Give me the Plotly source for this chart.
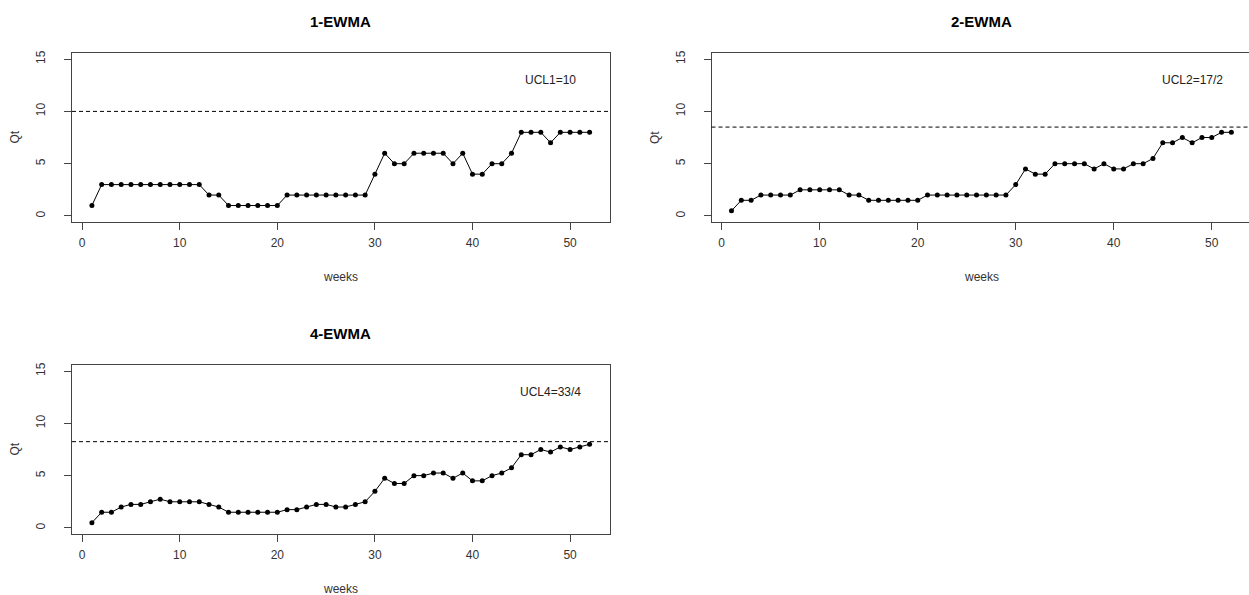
import plotly.graph_objects as go

# Weekly EWMA statistics Qt for the three smoothing orders
weeks = list(range(1, 53))

q_ewma1 = [1, 3, 3, 3, 3, 3, 3, 3, 3, 3, 3, 3, 2, 2, 1, 1, 1, 1, 1, 1,
           2, 2, 2, 2, 2, 2, 2, 2, 2, 4, 6, 5, 5, 6, 6, 6, 6, 5, 6, 4,
           4, 5, 5, 6, 8, 8, 8, 7, 8, 8, 8, 8]

q_ewma2 = [0.5, 1.5, 1.5, 2, 2, 2, 2, 2.5, 2.5, 2.5, 2.5, 2.5, 2, 2,
           1.5, 1.5, 1.5, 1.5, 1.5, 1.5, 2, 2, 2, 2, 2, 2, 2, 2, 2, 3,
           4.5, 4, 4, 5, 5, 5, 5, 4.5, 5, 4.5, 4.5, 5, 5, 5.5, 7, 7,
           7.5, 7, 7.5, 7.5, 8, 8]

q_ewma4 = [0.5, 1.5, 1.5, 2, 2.25, 2.25, 2.5, 2.75, 2.5, 2.5, 2.5, 2.5,
           2.25, 2, 1.5, 1.5, 1.5, 1.5, 1.5, 1.5, 1.75, 1.75, 2, 2.25,
           2.25, 2, 2, 2.25, 2.5, 3.5, 4.75, 4.25, 4.25, 5, 5, 5.25,
           5.25, 4.75, 5.25, 4.5, 4.5, 5, 5.25, 5.75, 7, 7, 7.5, 7.25,
           7.75, 7.5, 7.75, 8]

titles = ["1-EWMA", "2-EWMA", "4-EWMA"]
ucl_values = [10, 8.5, 8.25]
ucl_labels = ["UCL1=10", "UCL2=17/2", "UCL4=33/4"]
x_ticks = [0, 10, 20, 30, 40, 50]
y_ticks = [0, 5, 10, 15]
x_label = "weeks"
y_label = "Qt"

W, H = 1249, 595
FONT = "Liberation Sans, Arial, sans-serif"
INK = "#333333"

# panel boxes in pixels: (left, right, top, bottom, x-range max)
# the right-hand panel runs off the page edge, so its box stops at the edge
boxes = [
    (72, 609.5, 51, 221, 54.04),
    (711.5, 1249, 51, 221, 53.8),
    (72, 609.5, 364, 534, 54.04),
]
title_centers = [340.75, 981, 340.75]

series = [q_ewma1, q_ewma2, q_ewma4]

fig = go.Figure()
layout = dict(
    width=W, height=H,
    margin=dict(l=0, r=0, t=0, b=0),
    paper_bgcolor="white", plot_bgcolor="white",
    showlegend=False,
    font=dict(family=FONT, size=12, color=INK),
    shapes=[], annotations=[],
)

for i, (vals, box) in enumerate(zip(series, boxes)):
    suf = "" if i == 0 else str(i + 1)
    xa, ya = "x" + suf, "y" + suf
    left, right, top, bottom, xmax = box
    xdom = [left / W, min(right / W, 1.0)]
    ydom = [1 - bottom / H, 1 - top / H]
    clipped = right >= W

    fig.add_trace(go.Scatter(
        x=weeks, y=vals, xaxis=xa, yaxis=ya,
        mode="lines+markers",
        line=dict(color="black", width=1),
        marker=dict(color="black", size=5),
        hoverinfo="x+y",
    ))

    axis_common = dict(
        showline=True, linecolor="#444444", linewidth=1,
        ticks="outside", ticklen=7, tickwidth=1, tickcolor="#444444",
        showgrid=False, zeroline=False,
        tickfont=dict(family=FONT, size=12, color=INK),
    )
    layout["xaxis" + suf] = dict(
        axis_common, domain=xdom, anchor=ya, mirror=True,
        range=[-1.04, xmax], tickmode="array", tickvals=x_ticks,
        ticklabelstandoff=2,
    )
    layout["yaxis" + suf] = dict(
        axis_common, domain=ydom, anchor=xa, mirror=not clipped,
        range=[-0.6, 15.6], tickmode="array", tickvals=y_ticks,
        tickangle=-90, ticklabelstandoff=14,
    )

    # upper control limit
    layout["shapes"].append(dict(
        type="line", xref=xa + " domain", yref=ya,
        x0=0, x1=1, y0=ucl_values[i], y1=ucl_values[i],
        line=dict(color="black", width=1, dash="4px,3px"),
    ))
    layout["annotations"].append(dict(
        x=48, y=13, xref=xa, yref=ya, text=ucl_labels[i],
        showarrow=False, font=dict(family=FONT, size=12, color="#222222"),
    ))

    cx = title_centers[i] / W
    # panel title
    layout["annotations"].append(dict(
        x=cx, y=1 - (top - 31) / H, xref="paper", yref="paper",
        text="<b>" + titles[i] + "</b>", showarrow=False,
        font=dict(family=FONT, size=15, color="black"),
        xanchor="center", yanchor="middle",
    ))
    # x-axis label
    layout["annotations"].append(dict(
        x=cx, y=1 - (bottom + 55) / H, xref="paper", yref="paper",
        text=x_label, showarrow=False,
        font=dict(family=FONT, size=12, color=INK),
        xanchor="center", yanchor="middle",
    ))
    # y-axis label
    layout["annotations"].append(dict(
        x=(left - 57) / W, y=1 - (top + bottom) / 2 / H,
        xref="paper", yref="paper",
        text=y_label, showarrow=False, textangle=-90,
        font=dict(family=FONT, size=12, color=INK),
        xanchor="center", yanchor="middle",
    ))

fig.update_layout(**layout)
fig.write_html("out.html")
